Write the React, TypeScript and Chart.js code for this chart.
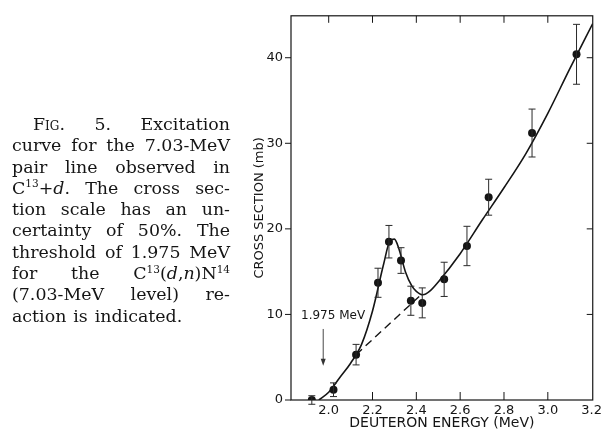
import React, { useEffect, useRef } from "react";
import { Chart, registerables } from "chart.js";

Chart.register(...registerables);

// Measured points (MeV, mb) with symmetric errors
const energies = [1.923, 2.022, 2.125, 2.225, 2.275, 2.33, 2.375, 2.427, 2.527, 2.631, 2.73, 2.928, 3.131];
const crossSections = [0, 1.2, 5.3, 13.7, 18.5, 16.3, 11.6, 11.35, 14.1, 18.0, 23.7, 31.2, 40.4];
const errors = [0.5, 0.8, 1.2, 1.7, 1.9, 1.5, 1.7, 1.75, 2.0, 2.3, 2.1, 2.8, 3.5];

// Smooth excitation curve
const curveX = [1.955, 2.0, 2.05, 2.1, 2.15, 2.2, 2.25, 2.28, 2.3, 2.32, 2.35, 2.38, 2.4, 2.43, 2.46, 2.5, 2.6, 2.7, 2.8, 2.9, 3.0, 3.1, 3.205];
const curveY = [0, 0.9, 2.6, 4.3, 6.5, 10.4, 15.8, 18.6, 18.8, 17.7, 15.0, 13.3, 12.7, 12.3, 12.7, 13.8, 17.1, 21.0, 24.8, 28.8, 33.5, 38.7, 44.0];

// Dashed background extrapolation
const dashX = [2.125, 2.413];
const dashY = [5.3, 12.1];

const xTicks = [2.0, 2.2, 2.4, 2.6, 2.8, 3.0, 3.2];
const yTicks = [0, 10, 20, 30, 40];

const thresholdEnergy = 1.975;
const thresholdLabel = "1.975 MeV";
const arrowFrom = 8.3;
const arrowTo = 4.0;

const xTitle = "DEUTERON ENERGY (MeV)";
const yTitle = "CROSS SECTION (mb)";

const INK = "#151515";

const decorPlugin = {
  id: "decor",
  afterDatasetsDraw(chart: any) {
    const { ctx, chartArea: a, scales } = chart;
    const x = scales.x;
    const y = scales.y;
    ctx.save();
    ctx.strokeStyle = INK;
    ctx.lineWidth = 1.2;
    ctx.strokeRect(a.left, a.top, a.right - a.left, a.bottom - a.top);

    ctx.lineWidth = 1;
    ctx.beginPath();
    for (const v of xTicks) {
      const px = x.getPixelForValue(v);
      if (v > 2.05 && v < 3.15) {
        ctx.moveTo(px, a.bottom);
        ctx.lineTo(px, a.bottom - 8);
      }
      if (v < 3.15) {
        ctx.moveTo(px, a.top);
        ctx.lineTo(px, a.top + 7);
      }
    }
    for (const v of yTicks) {
      const py = y.getPixelForValue(v);
      ctx.moveTo(a.left - 6, py);
      ctx.lineTo(a.left, py);
      if (v > 0) {
        ctx.moveTo(a.right, py);
        ctx.lineTo(a.right - 6, py);
      }
    }
    ctx.stroke();

    // error bars
    ctx.strokeStyle = "#2a2a2a";
    ctx.lineWidth = 1;
    ctx.beginPath();
    energies.forEach((e, i) => {
      const px = x.getPixelForValue(e);
      const top = y.getPixelForValue(crossSections[i] + errors[i]);
      const bot = y.getPixelForValue(Math.max(crossSections[i] - errors[i], -0.6));
      ctx.moveTo(px, top);
      ctx.lineTo(px, bot);
      ctx.moveTo(px - 3.5, top);
      ctx.lineTo(px + 3.5, top);
      ctx.moveTo(px - 3.5, bot);
      ctx.lineTo(px + 3.5, bot);
    });
    ctx.stroke();

    // threshold arrow
    const ax = x.getPixelForValue(thresholdEnergy);
    const ay1 = y.getPixelForValue(arrowFrom);
    const ay2 = y.getPixelForValue(arrowTo);
    ctx.strokeStyle = "#333";
    ctx.lineWidth = 0.9;
    ctx.beginPath();
    ctx.moveTo(ax, ay1);
    ctx.lineTo(ax, ay2 - 4);
    ctx.stroke();
    ctx.fillStyle = "#333";
    ctx.beginPath();
    ctx.moveTo(ax, ay2);
    ctx.lineTo(ax - 2.5, ay2 - 7);
    ctx.lineTo(ax + 2.5, ay2 - 7);
    ctx.closePath();
    ctx.fill();

    // threshold label
    ctx.fillStyle = INK;
    ctx.font = "12px 'DejaVu Sans'";
    ctx.textAlign = "left";
    ctx.textBaseline = "middle";
    ctx.fillText(thresholdLabel, a.left + 10, y.getPixelForValue(10) + 1);
    ctx.restore();
  },
};

const supStyle: React.CSSProperties = { fontSize: "10.5px", verticalAlign: "baseline", position: "relative", top: "-6.5px" };

const captionLines: { words: React.ReactNode[]; indent?: number; justify?: boolean }[] = [
  { words: [<span style={{ fontVariant: "small-caps" }}>Fig.</span>, "5.", "Excitation"], indent: 21, justify: true },
  { words: ["curve", "for", "the", "7.03-MeV"], justify: true },
  { words: ["pair", "line", "observed", "in"], justify: true },
  {
    words: [
      <span>C<sup style={supStyle}>13</sup>+<i>d</i>.</span>,
      "The",
      "cross",
      "sec-",
    ],
    justify: true,
  },
  { words: ["tion", "scale", "has", "an", "un-"], justify: true },
  { words: ["certainty", "of", "50%.", "The"], justify: true },
  { words: ["threshold", "of", "1.975", "MeV"], justify: true },
  {
    words: [
      "for",
      "the",
      <span>
        C<sup style={supStyle}>13</sup>(<i>d</i>,<i>n</i>)N<sup style={supStyle}>14</sup>
      </span>,
    ],
    justify: true,
  },
  { words: ["(7.03-MeV", "level)", "re-"], justify: true },
  { words: ["action", "is", "indicated."], justify: false },
];

export default function App() {
  const canvasRef = useRef<HTMLCanvasElement | null>(null);

  useEffect(() => {
    const canvas = canvasRef.current;
    if (!canvas) return;
    const chart = new Chart(canvas, {
      type: "line",
      data: {
        datasets: [
          {
            type: "line",
            data: curveX.map((v, i) => ({ x: v, y: curveY[i] })),
            borderColor: INK,
            borderWidth: 1.6,
            pointRadius: 0,
            cubicInterpolationMode: "monotone",
            fill: false,
          } as any,
          {
            type: "line",
            data: dashX.map((v, i) => ({ x: v, y: dashY[i] })),
            borderColor: INK,
            borderWidth: 1.4,
            borderDash: [8, 5],
            pointRadius: 0,
            fill: false,
          } as any,
          {
            type: "line",
            data: energies.map((v, i) => ({ x: v, y: crossSections[i] })),
            showLine: false,
            pointRadius: 4,
            pointBackgroundColor: INK,
            pointBorderColor: INK,
            pointBorderWidth: 0,
          } as any,
        ],
      },
      options: {
        animation: false,
        responsive: false,
        devicePixelRatio: 1,
        layout: { padding: { left: 252, right: 7, top: 13, bottom: 0 } },
        plugins: { legend: { display: false }, tooltip: { enabled: false } },
        scales: {
          x: {
            type: "linear",
            min: 1.828,
            max: 3.205,
            afterBuildTicks: (s: any) => {
              s.ticks = xTicks.map((v) => ({ value: v }));
            },
            afterFit: (s: any) => {
              s.height = 32;
            },
            grid: { display: false, drawTicks: false },
            border: { display: false },
            ticks: {
              padding: 3,
              color: INK,
              font: { family: "'DejaVu Sans'", size: 13 },
              maxRotation: 0,
              autoSkip: false,
              callback: (v: any) => Number(v).toFixed(1),
            },
            title: {
              display: true,
              text: xTitle,
              color: INK,
              padding: 0,
              font: { family: "'DejaVu Sans'", size: 14 },
            },
          },
          y: {
            type: "linear",
            min: 0,
            max: 44.9,
            afterBuildTicks: (s: any) => {
              s.ticks = yTicks.map((v) => ({ value: v }));
            },
            afterFit: (s: any) => {
              s.width = 39;
            },
            grid: { display: false, drawTicks: false },
            border: { display: false },
            ticks: {
              padding: 8,
              color: INK,
              font: { family: "'DejaVu Sans'", size: 13 },
              autoSkip: false,
              callback: (v: any) => String(v),
            },
            title: {
              display: true,
              text: yTitle,
              color: INK,
              padding: 0,
              font: { family: "'DejaVu Sans'", size: 13 },
            },
          },
        },
      },
      plugins: [decorPlugin],
    });
    return () => chart.destroy();
  }, []);

  return (
    <div style={{ position: "absolute", left: 0, top: 0, width: 605, height: 432, background: "#fff", overflow: "hidden" }}>
      <canvas ref={canvasRef} width={605} height={432} style={{ position: "absolute", left: 0, top: 0, width: 605, height: 432 }} />
      <div
        style={{
          position: "absolute",
          left: 12,
          top: 114,
          width: 218,
          fontFamily: "'DejaVu Serif', serif",
          fontSize: 17.4,
          lineHeight: "21.3px",
          color: INK,
        }}
      >
        {captionLines.map((ln, i) => (
          <div
            key={i}
            style={{
              display: "flex",
              justifyContent: ln.justify ? "space-between" : "flex-start",
              gap: ln.justify ? 0 : "0.4em",
              paddingLeft: ln.indent || 0,
              whiteSpace: "nowrap",
              height: "21.3px",
            }}
          >
            {ln.words.map((w, j) => (
              <span key={j}>{w}</span>
            ))}
          </div>
        ))}
      </div>
    </div>
  );
}
